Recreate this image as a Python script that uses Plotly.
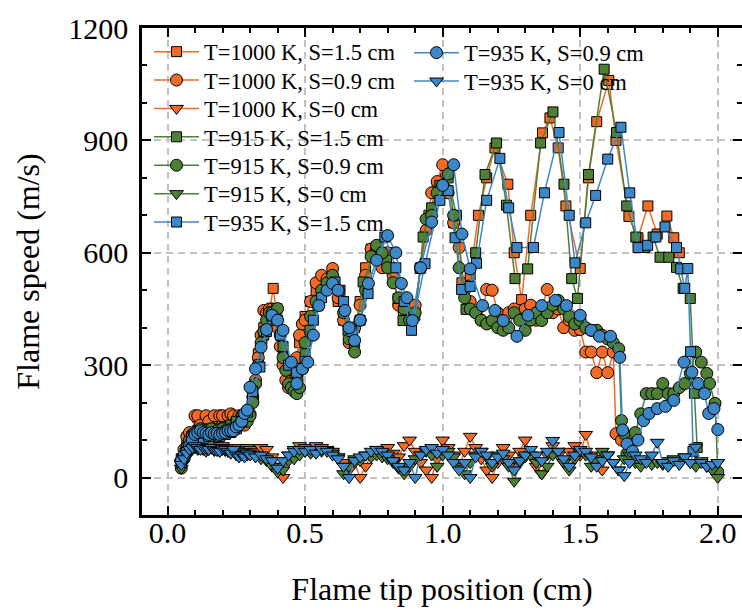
import plotly.graph_objects as go

# ---- data: flame speed (m/s) vs flame tip position (cm) ----
# S = 1.5 cm (squares)
os_x = [0.05, 0.07, 0.09, 0.11, 0.13, 0.15, 0.17, 0.19, 0.21, 0.23,
        0.25, 0.27, 0.29, 0.31, 0.33, 0.35, 0.37, 0.384, 0.40, 0.42,
        0.44, 0.46, 0.48, 0.50, 0.52, 0.54, 0.56, 0.58, 0.60, 0.62,
        0.64, 0.66, 0.68, 0.70, 0.72, 0.74, 0.76, 0.78, 0.80, 0.82,
        0.84, 0.86, 0.88, 0.90, 0.92, 0.95, 0.98, 1.01, 1.04, 1.07,
        1.10, 1.13, 1.16, 1.19, 1.237, 1.26, 1.287, 1.32, 1.363, 1.39,
        1.42, 1.448, 1.50, 1.53, 1.56, 1.604, 1.63, 1.677, 1.71, 1.746,
        1.78, 1.815, 1.84, 1.86]
os_y = [50, 90, 120, 160, 130, 160, 140, 160, 150, 160,
        165, 150, 165, 230, 330, 400, 440, 505, 420, 320,
        270, 280, 360, 430, 470, 500, 520, 510, 540, 470,
        420, 390, 400, 470, 560, 610, 610, 580, 600, 530,
        470, 440, 420, 450, 560, 700, 780, 810, 680, 520,
        540, 700, 800, 880, 783, 600, 475, 700, 920, 960,
        880, 725, 558, 800, 950, 1060, 900, 697, 640, 725,
        650, 698, 640, 600]

gs_x = [0.05, 0.07, 0.09, 0.11, 0.13, 0.15, 0.17, 0.19, 0.21, 0.23,
        0.25, 0.27, 0.29, 0.31, 0.33, 0.35, 0.37, 0.397, 0.42, 0.445,
        0.474, 0.50, 0.518, 0.547, 0.58, 0.627, 0.656, 0.68, 0.711, 0.76,
        0.796, 0.838, 0.856, 0.899, 0.918, 0.929, 0.96, 0.99, 1.02, 1.05,
        1.085, 1.12, 1.154, 1.196, 1.232, 1.263, 1.309, 1.356, 1.401, 1.441,
        1.469, 1.49, 1.53, 1.587, 1.632, 1.669, 1.702, 1.735, 1.765, 1.79,
        1.822, 1.85, 1.874, 1.90, 1.915, 1.925]
gs_y = [35, 80, 110, 125, 120, 130, 125, 130, 135, 140,
        150, 160, 170, 210, 300, 380, 420, 451, 350, 286,
        268, 330, 393, 459, 510, 500, 393, 360, 522, 615,
        580, 478, 419, 433, 558, 642, 720, 780, 800, 700,
        449, 600, 809, 893, 727, 531, 557, 893, 976, 783,
        531, 478, 809, 1090, 921, 725, 642, 614, 642, 588,
        588, 561, 505, 478, 225, 80]

bs_x = [0.05, 0.07, 0.09, 0.11, 0.13, 0.15, 0.17, 0.19, 0.21, 0.23,
        0.25, 0.27, 0.29, 0.31, 0.336, 0.36, 0.38, 0.41, 0.44, 0.469,
        0.50, 0.53, 0.56, 0.609, 0.64, 0.67, 0.70, 0.729, 0.79, 0.83,
        0.860, 0.887, 0.936, 0.99, 1.02, 1.045, 1.069, 1.10, 1.123, 1.16,
        1.208, 1.24, 1.27, 1.33, 1.37, 1.423, 1.46, 1.481, 1.52, 1.556,
        1.60, 1.648, 1.68, 1.71, 1.745, 1.775, 1.808, 1.85, 1.865, 1.88,
        1.891, 1.901, 1.91]
bs_y = [40, 70, 95, 110, 105, 110, 115, 110, 115, 120,
        130, 150, 175, 230, 295, 390, 430, 380, 300, 281,
        310, 420, 480, 522, 470, 390, 420, 491, 642, 560,
        470, 393, 571, 740, 766, 640, 502, 510, 572, 740,
        852, 720, 614, 614, 760, 921, 700, 573, 680, 753,
        850, 935, 760, 614, 620, 642, 669, 614, 557, 505,
        558, 336, 70]

# S = 0.9 cm (circles)
oc_x = [0.05, 0.06, 0.07, 0.08, 0.09, 0.10, 0.11, 0.12, 0.13, 0.14,
        0.15, 0.16, 0.17, 0.18, 0.19, 0.20, 0.21, 0.22, 0.23, 0.24,
        0.25, 0.26, 0.27, 0.28, 0.29, 0.30, 0.31, 0.32, 0.33, 0.34,
        0.35, 0.36, 0.37, 0.38, 0.39, 0.40, 0.41, 0.42, 0.43, 0.44,
        0.45, 0.46, 0.47, 0.48, 0.49, 0.50, 0.52, 0.54, 0.56, 0.58,
        0.60, 0.62, 0.64, 0.66, 0.68, 0.70, 0.72, 0.74, 0.76, 0.78,
        0.80, 0.82, 0.84, 0.86, 0.88, 0.90, 0.92, 0.94, 0.96, 0.98,
        1.00, 1.02, 1.04, 1.06, 1.08, 1.10, 1.12, 1.14, 1.16, 1.18,
        1.20, 1.22, 1.24, 1.26, 1.28, 1.30, 1.32, 1.34, 1.36, 1.38,
        1.40, 1.42, 1.44, 1.46, 1.48, 1.50, 1.52, 1.54, 1.56, 1.58,
        1.60, 1.62, 1.63, 1.65]
oc_y = [45, 75, 110, 120, 115, 165, 165, 140, 120, 165,
        150, 130, 165, 120, 165, 165, 130, 165, 170, 165,
        150, 165, 165, 140, 165, 170, 215, 260, 320, 380,
        446, 440, 450, 450, 420, 400, 350, 300, 260, 240,
        260, 280, 320, 380, 410, 420, 470, 520, 540, 530,
        558, 480, 420, 360, 400, 460, 540, 610, 610, 560,
        600, 540, 460, 440, 430, 460, 560, 660, 760, 790,
        835, 760, 680, 614, 500, 470, 440, 420, 502, 500,
        440, 420, 440, 450, 430, 450, 460, 420, 450, 502,
        440, 450, 400, 420, 393, 395, 335, 335, 280, 335,
        280, 335, 117, 100]

gc_x = [0.05, 0.06, 0.07, 0.08, 0.09, 0.10, 0.11, 0.12, 0.13, 0.14,
        0.15, 0.16, 0.17, 0.18, 0.19, 0.20, 0.21, 0.22, 0.23, 0.24,
        0.25, 0.26, 0.27, 0.28, 0.29, 0.30, 0.31, 0.32, 0.33, 0.34,
        0.35, 0.36, 0.37, 0.38, 0.39, 0.40, 0.41, 0.42, 0.43, 0.44,
        0.45, 0.46, 0.47, 0.48, 0.49, 0.50, 0.52, 0.54, 0.56, 0.58,
        0.60, 0.62, 0.64, 0.66, 0.68, 0.70, 0.72, 0.74, 0.76, 0.78,
        0.80, 0.82, 0.84, 0.86, 0.88, 0.90, 0.92, 0.94, 0.96, 0.98,
        1.00, 1.02, 1.04, 1.06, 1.08, 1.10, 1.12, 1.14, 1.16, 1.18,
        1.20, 1.22, 1.24, 1.26, 1.28, 1.30, 1.32, 1.34, 1.36, 1.38,
        1.40, 1.42, 1.44, 1.46, 1.48, 1.50, 1.52, 1.54, 1.56, 1.58,
        1.60, 1.62, 1.64, 1.65, 1.66, 1.67, 1.68, 1.70, 1.72, 1.74,
        1.76, 1.78, 1.80, 1.82, 1.84, 1.86, 1.88, 1.90, 1.92, 1.94,
        1.96, 1.97, 1.99, 2.00]
gc_y = [25, 50, 80, 100, 110, 120, 100, 130, 110, 125,
        100, 130, 120, 125, 110, 130, 125, 120, 130, 125,
        130, 140, 150, 160, 150, 165, 200, 250, 300, 360,
        390, 420, 440, 440, 430, 451, 380, 320, 286, 250,
        240, 230, 224, 240, 290, 360, 430, 470, 500, 520,
        540, 500, 440, 370, 335, 420, 500, 590, 620, 600,
        560, 520, 480, 450, 420, 440, 560, 690, 700, 760,
        780, 810, 700, 560, 480, 450, 440, 420, 410, 419,
        400, 393, 400, 440, 420, 393, 420, 440, 419, 440,
        460, 473, 450, 430, 410, 419, 400, 393, 393, 380,
        370, 360, 344, 152, 117, 64, 90, 120, 170, 224,
        224, 224, 251, 224, 224, 240, 251, 278, 335, 308,
        278, 251, 198, 15]

bc_x = [0.05, 0.06, 0.07, 0.08, 0.09, 0.10, 0.11, 0.12, 0.13, 0.14,
        0.15, 0.16, 0.17, 0.18, 0.19, 0.20, 0.21, 0.22, 0.23, 0.24,
        0.25, 0.26, 0.27, 0.28, 0.29, 0.30, 0.32, 0.34, 0.36, 0.38,
        0.40, 0.42, 0.45, 0.47, 0.49, 0.51, 0.53, 0.55, 0.58, 0.60,
        0.62, 0.645, 0.66, 0.68, 0.70, 0.73, 0.76, 0.80, 0.83, 0.85,
        0.87, 0.89, 0.92, 0.96, 1.00, 1.04, 1.07, 1.10, 1.145, 1.19,
        1.22, 1.27, 1.31, 1.36, 1.41, 1.45, 1.50, 1.54, 1.57, 1.61,
        1.644, 1.654, 1.67, 1.69, 1.71, 1.73, 1.75, 1.78, 1.81, 1.84,
        1.877, 1.906, 1.928, 1.952, 1.967, 1.986, 2.00]
bc_y = [45, 60, 70, 85, 100, 115, 120, 125, 120, 118,
        115, 120, 117, 118, 115, 118, 120, 125, 125, 125,
        135, 140, 150, 171, 180, 241, 290, 348, 395, 433,
        420, 393, 308, 251, 290, 308, 380, 459, 500, 518,
        500, 446, 400, 366, 420, 518, 580, 646, 600, 518,
        480, 419, 560, 682, 780, 835, 650, 557, 459, 446,
        419, 377, 433, 459, 473, 459, 433, 393, 377, 377,
        321, 127, 90, 70, 100, 152, 171, 184, 190, 206,
        308, 281, 251, 224, 171, 184, 128]

# S = 0 cm (down triangles), shared position grid
tri_x = [0.05, 0.06, 0.07, 0.08, 0.09, 0.10, 0.11, 0.12, 0.13, 0.14,
         0.15, 0.16, 0.17, 0.18, 0.19, 0.20, 0.21, 0.22, 0.23, 0.24,
         0.25, 0.26, 0.27, 0.28, 0.29, 0.30, 0.32, 0.34, 0.36, 0.38,
         0.40, 0.42, 0.44, 0.46, 0.48, 0.50, 0.52, 0.54, 0.56, 0.58,
         0.60, 0.62, 0.64, 0.66, 0.68, 0.70, 0.72, 0.74, 0.76, 0.78,
         0.80, 0.82, 0.84, 0.86, 0.88, 0.90, 0.92, 0.94, 0.96, 0.98,
         1.00, 1.02, 1.04, 1.06, 1.08, 1.10, 1.12, 1.14, 1.16, 1.18,
         1.20, 1.22, 1.24, 1.26, 1.28, 1.30, 1.32, 1.34, 1.36, 1.38,
         1.40, 1.42, 1.44, 1.46, 1.48, 1.50, 1.52, 1.54, 1.56, 1.58,
         1.60, 1.62, 1.64, 1.66, 1.68, 1.70, 1.72, 1.74, 1.76, 1.78,
         1.80, 1.82, 1.84, 1.86, 1.88, 1.90, 1.92, 1.94, 1.96, 1.98,
         2.00]
ot_y = [40, 55, 70, 80, 85, 80, 85, 80, 85, 75,
        80, 85, 80, 75, 80, 85, 80, 75, 80, 70,
        75, 80, 75, 70, 80, 75, 70, 80, 75, 55,
        30, 0, 60, 75, 85, 80, 75, 85, 80, 75,
        70, 55, 40, 20, 40, 0, 30, 60, 75, 70,
        80, 65, 55, 85, 100, 70, 40, 20, 0, 50,
        100, 80, 60, 30, 70, 110, 80, 50, 20, 0,
        40, 80, 60, 30, 70, 100, 60, 30, 10, 60,
        85, 60, 40, 70, 85, 60, 115, 60, 40, 20,
        60, 40]
gt_y = [25, 45, 60, 70, 75, 80, 75, 78, 75, 70,
        75, 78, 72, 75, 70, 75, 72, 70, 68, 72,
        70, 65, 70, 65, 60, 65, 60, 50, 45, 30,
        15, 20, 45, 50, 60, 70, 65, 75, 70, 72,
        65, 55, 10, 30, 50, 45, 60, 55, 60, 55,
        50, 40, 25, 10, 30, 50, 60, 70, 60, 30,
        60, 70, 55, 25, 10, 40, 60, 70, 55, 30,
        60, 50, 30, -10, 40, 55, 60, 40, 10, 30,
        60, 70, 40, 20, 50, 70, 60, 30, 50, 70,
        60, 40, 20, 50, 60, 40, 30, 45, 35, 40,
        35, 45, 50, 40, 55, 40, 30, 45, 30, 20,
        0]
bt_y = [35, 50, 65, 75, 80, 85, 80, 75, 80, 78,
        75, 80, 75, 72, 70, 78, 75, 70, 65, 75,
        60, 55, 60, 55, 65, 60, 55, 60, 50, 45,
        25, 45, 60, 70, 75, 70, 75, 65, 75, 70,
        60, 50, 30, 0, 45, 55, 60, 70, 75, 70,
        60, 45, 30, 20, 40, 0, 60, 75, 80, 65,
        75, 60, 40, 20, 40, 0, 55, 70, 60, 40,
        55, 65, 40, 20, 45, 60, 75, 60, 45, 70,
        99, 70, 50, 30, 60, 75, 70, 55, 30, 45,
        60, 40, 20, 5, 40, 60, 50, 40, 60, 94,
        40, 30, 45, 35, 55, 40, 81, 40, 30, 35,
        40]

ORANGE = "#F26B26"
GREEN = "#4E7F37"
BLUE = "#3C87C8"

# name, x, y, colour, symbol, size, x-axis (x2 shares the same range and
# carries the tick labels just under the frame)
series = [
    ("T=1000 K, S=1.5 cm", os_x, os_y, ORANGE, "square", 10, "x"),
    ("T=1000 K, S=0.9 cm", oc_x, oc_y, ORANGE, "circle", 12, "x"),
    ("T=1000 K, S=0 cm", tri_x[:len(ot_y)], ot_y, ORANGE, "triangle-down", 12, "x"),
    ("T=915 K, S=1.5 cm", gs_x, gs_y, GREEN, "square", 10, "x"),
    ("T=915 K, S=0.9 cm", gc_x, gc_y, GREEN, "circle", 12, "x"),
    ("T=915 K, S=0 cm", tri_x, gt_y, GREEN, "triangle-down", 12, "x"),
    ("T=935 K, S=1.5 cm", bs_x, bs_y, BLUE, "square", 10, "x"),
    ("T=935 K, S=0.9 cm", bc_x, bc_y, BLUE, "circle", 12, "x"),
    ("T=935 K, S=0 cm", tri_x, bt_y, BLUE, "triangle-down", 12, "x2"),
]

X_RANGE = [-0.0927, 2.088]
Y_RANGE = [-100, 1200]

# Plot-area geometry (px) used to place the legend entries
WIDTH, HEIGHT = 742, 610
M_L, M_R, M_T, M_B = 142, 0, 28, 95
PLOT_W = WIDTH - M_L - M_R
PLOT_H = HEIGHT - M_T - M_B

# Legend laid out column-wise: 7 entries in the first column, 2 in the second
ROW_STEP = 28.4
legend_slots = [(149, 52 + i * ROW_STEP) for i in range(7)] + \
               [(409, 53 + i * ROW_STEP) for i in range(2)]

FONT = "Liberation Serif"
fig = go.Figure()
legend_layouts = {}
for k, (name, xs, ys, color, symbol, size, xa) in enumerate(series):
    key = "legend" if k == 0 else f"legend{k + 1}"
    fig.add_trace(go.Scatter(
        x=xs, y=ys, name=name, mode="lines+markers", legend=key,
        xaxis=xa, yaxis="y",
        line=dict(color=color, width=1.5),
        marker=dict(symbol=symbol, size=size, color=color,
                    line=dict(color="black", width=1)),
    ))
    px, py = legend_slots[k]
    legend_layouts[key] = dict(
        x=(px - M_L) / PLOT_W, y=(HEIGHT - M_B - py) / PLOT_H,
        xanchor="left", yanchor="middle", bgcolor="rgba(0,0,0,0)",
        borderwidth=0, font=dict(family=FONT, size=22.5, color="black"),
        itemwidth=45,
    )

tick_font = dict(family=FONT, size=30, color="black")
title_font = dict(family=FONT, size=32, color="black")

frame = dict(
    showline=True, linewidth=2.5, linecolor="black", mirror="ticks",
    ticks="inside", ticklen=9, tickwidth=2, tickcolor="black",
    showgrid=True, gridcolor="#C2C2C2", gridwidth=1.5, griddash="7px,5px",
    zeroline=False,
)

fig.update_layout(
    template="none",
    width=WIDTH, height=HEIGHT,
    margin=dict(l=M_L, r=M_R, t=M_T, b=M_B),
    paper_bgcolor="white", plot_bgcolor="white",
    font=dict(family=FONT, color="black", size=30),
    showlegend=True,
    **legend_layouts,
    # frame, ticks and grid of the position axis; title sits below the labels
    xaxis=dict(
        range=X_RANGE, tick0=0, dtick=0.5, showticklabels=False,
        minor=dict(ticks="inside", ticklen=5, tickwidth=2, dtick=0.1, tick0=0,
                   tickcolor="black", showgrid=False),
        automargin=True,
        title=dict(text="Flame tip position (cm)", standoff=61, font=title_font),
        **frame,
    ),
    # tick labels of the position axis, set just under the frame
    xaxis2=dict(
        range=X_RANGE, overlaying="x", anchor="free", position=0.016,
        side="bottom", tick0=0, dtick=0.5, tickformat=".1f",
        showline=False, ticks="", showgrid=False, zeroline=False,
        automargin=False, tickfont=tick_font, ticklabelstandoff=5,
    ),
    yaxis=dict(
        range=Y_RANGE, tick0=0, dtick=300,
        minor=dict(ticks="inside", ticklen=5, tickwidth=2, dtick=100, tick0=0,
                   tickcolor="black", showgrid=False),
        automargin=False, tickfont=tick_font, ticklabelstandoff=5,
        title=dict(text="Flame speed (m/s)", standoff=20, font=title_font),
        **frame,
    ),
)

fig.write_html("out.html")
